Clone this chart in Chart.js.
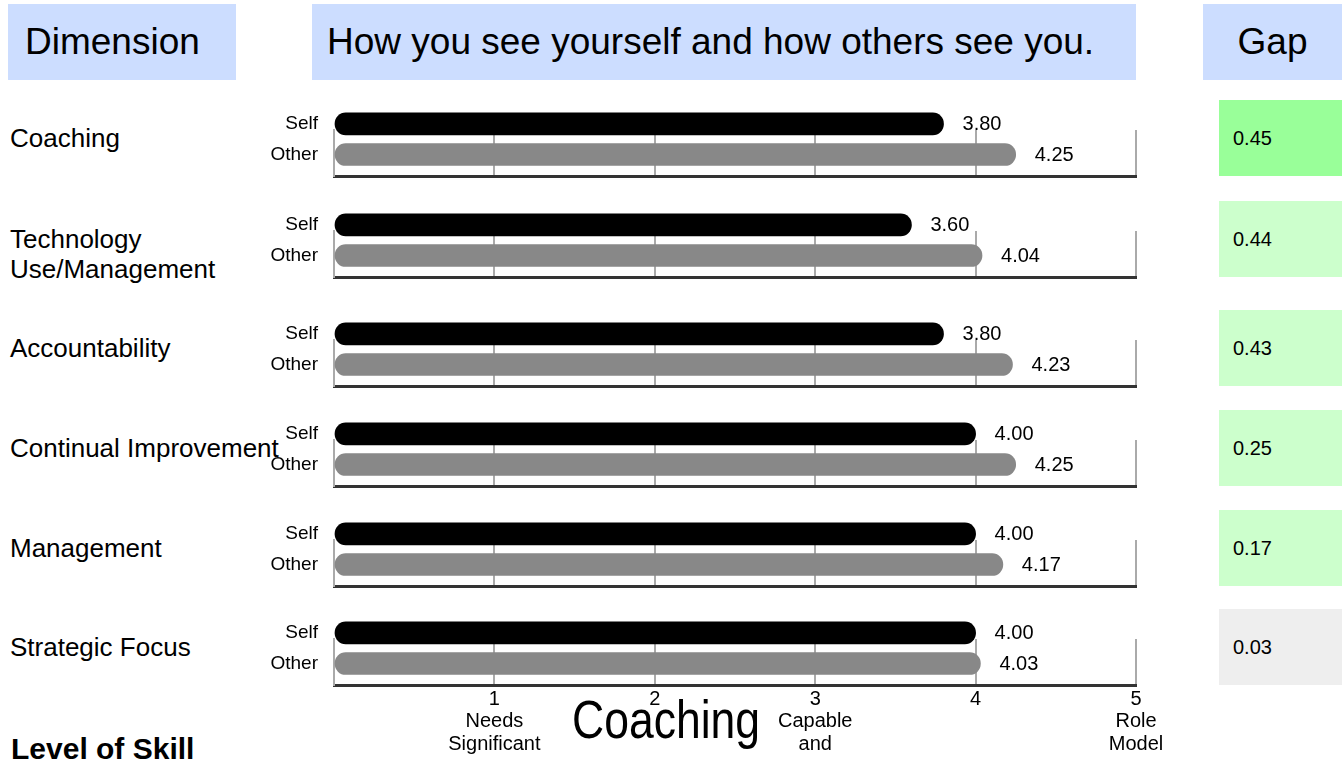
<!DOCTYPE html>
<html>
<head>
<meta charset="utf-8">
<script src="https://cdn.jsdelivr.net/npm/chart.js@4.4.1/dist/chart.umd.min.js"></script>
<style>
    body {
        margin: 0;
        width: 1342px;
        height: 761px;
        position: relative;
        overflow: hidden;
        background: #fff;
        color: #000;
        font-family: 'Liberation Sans', Arial, sans-serif;
    }
    .hdr {
        position: absolute;
        top: 4px;
        height: 76px;
        line-height: 76px;
        background: #ccddff;
        font-size: 37px;
        box-sizing: border-box;
        white-space: nowrap;
    }
    .dim {
        position: absolute;
        left: 10px;
        font-size: 26px;
        line-height: 30px;
        white-space: nowrap;
    }
    .gap {
        position: absolute;
        left: 1219px;
        width: 123px;
        height: 76px;
        line-height: 76px;
        padding-left: 14px;
        box-sizing: border-box;
        font-size: 20px;
    }
    canvas { position: absolute; }
    #bigTitle {
        position: absolute;
        left: 572px;
        top: 693px;
        font-size: 53px;
        line-height: 53px;
        transform: scaleX(0.84);
        transform-origin: left top;
        white-space: nowrap;
    }
    #levelLabel {
        position: absolute;
        left: 11px;
        top: 734px;
        font-size: 30px;
        line-height: 30px;
        font-weight: bold;
        white-space: nowrap;
    }
</style>
</head>
<body>
<div class="hdr" style="left:8px;width:228px;padding-left:17px">Dimension</div>
<div class="hdr" style="left:312px;width:824px;padding-left:15px">How you see yourself and how others see you.</div>
<div class="hdr" style="left:1203px;width:139px;text-align:center">Gap</div>
<div id="labels"></div>
<div id="charts"></div>
<div id="bigTitle">Coaching</div>
<div id="levelLabel">Level of Skill</div>

<script>
const dimensions = [
    ['Coaching'],
    ['Technology', 'Use/Management'],
    ['Accountability'],
    ['Continual Improvement'],
    ['Management'],
    ['Strategic Focus']
];
const barLabels = ['Self', 'Other'];
const selfScores = [3.80, 3.60, 3.80, 4.00, 4.00, 4.00];
const otherScores = [4.25, 4.04, 4.23, 4.25, 4.17, 4.03];
const gaps = [0.45, 0.44, 0.43, 0.25, 0.17, 0.03];
const xTickLabels = [
    ['1', 'Needs', 'Significant'],
    ['2'],
    ['3', 'Capable', 'and'],
    ['4'],
    ['5', 'Role', 'Model']
];

// bottom axis line of each small chart
const axisTops = [176, 277, 386, 486, 586, 685];

document.addEventListener('DOMContentLoaded', function () {

    Chart.defaults.font.family = "'Liberation Sans', Arial, sans-serif";
    Chart.defaults.color = '#000';

    const valueLabels = {
        id: 'valueLabels',
        afterDatasetsDraw(chart) {
            const ctx = chart.ctx;
            const ds = chart.data.datasets[0];
            ctx.save();
            ctx.font = "20px 'Liberation Sans', Arial, sans-serif";
            ctx.fillStyle = '#000';
            ctx.textBaseline = 'middle';
            ctx.textAlign = 'left';
            chart.getDatasetMeta(0).data.forEach((bar, i) => {
                ctx.fillText(ds.data[i].x.toFixed(2), bar.x + 19, bar.y + 1);
            });
            ctx.restore();
        }
    };

    const labelsBox = document.getElementById('labels');
    const chartsBox = document.getElementById('charts');

    dimensions.forEach((lines, i) => {
        const axisY = axisTops[i];
        const isLast = i === dimensions.length - 1;

        const lab = document.createElement('div');
        lab.className = 'dim';
        lab.style.top = (axisY - 53) + 'px';
        lab.innerHTML = lines.join('<br>');
        labelsBox.appendChild(lab);

        const gapBox = document.createElement('div');
        gapBox.className = 'gap';
        gapBox.style.top = (axisY - 76) + 'px';
        gapBox.style.background = gaps[i] >= 0.45 ? '#99ff99' : (gaps[i] >= 0.1 ? '#ccffcc' : '#eeeeee');
        gapBox.textContent = gaps[i].toFixed(2);
        labelsBox.appendChild(gapBox);

        const xAxisH = isLast ? 76 : 2;
        const padBottom = isLast ? 0 : 14;
        const canvas = document.createElement('canvas');
        canvas.width = 942;
        canvas.height = 25 + 46 + xAxisH + padBottom;
        canvas.style.left = '234px';
        canvas.style.top = (axisY - 71) + 'px';
        chartsBox.appendChild(canvas);

        new Chart(canvas, {
            type: 'bar',
            data: {
                datasets: [{
                    data: [
                        { x: selfScores[i], y: 0 },
                        { x: otherScores[i], y: 1 }
                    ],
                    backgroundColor: ['#000000', '#888888'],
                    barThickness: 22,
                    borderRadius: 11,
                    borderSkipped: false,
                    clip: false
                }]
            },
            options: {
                indexAxis: 'y',
                responsive: false,
                animation: false,
                layout: {
                    padding: { top: 25, right: 40, bottom: padBottom, left: 0 }
                },
                plugins: {
                    legend: { display: false },
                    tooltip: { enabled: false }
                },
                scales: {
                    x: {
                        type: 'linear',
                        min: 0,
                        max: 5,
                        grid: { color: '#aaaaaa', lineWidth: 2, drawTicks: false },
                        border: { color: '#333333', width: 3 },
                        ticks: {
                            display: isLast,
                            stepSize: 1,
                            padding: 3,
                            autoSkip: false,
                            maxRotation: 0,
                            color: '#000',
                            font: { size: 20, lineHeight: 1.12 },
                            callback: v => v === 0 ? '' : xTickLabels[v - 1]
                        },
                        afterFit: s => { s.height = xAxisH; }
                    },
                    y: {
                        type: 'linear',
                        reverse: true,
                        offset: false,
                        min: 0.2,
                        max: 1.7,
                        grid: { display: false, offset: false, drawTicks: true, tickLength: 16 },
                        border: { color: '#aaaaaa', width: 2 },
                        ticks: {
                            color: '#000',
                            padding: 0,
                            autoSkip: false,
                            font: { size: 19 },
                            callback: v => barLabels[v]
                        },
                        afterBuildTicks: s => { s.ticks = barLabels.map((_, k) => ({ value: k })); },
                        afterFit: s => { s.width = 100; }
                    }
                }
            },
            plugins: [valueLabels]
        });
    });
});
</script>
</body>
</html>
